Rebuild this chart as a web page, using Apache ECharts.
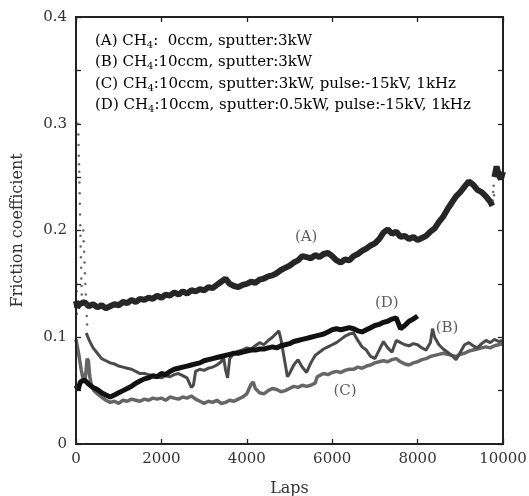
<!DOCTYPE html>
<html>
<head>
<meta charset="utf-8">
<script src="https://cdn.jsdelivr.net/npm/echarts@6/dist/echarts.min.js"></script>
<style>
  html, body { margin: 0; padding: 0; background: #fff; }
  #chart { width: 529px; height: 496px; }
</style>
</head>
<body>
<div id="chart"></div>
<script>
// friction coefficient vs laps, four coatings
const xTicks = [0, 2000, 4000, 6000, 8000, 10000];
const yTicks = [0, 0.1, 0.2, 0.3, 0.4];

const lapsA = [0, 30, 80, 200, 300, 400, 500, 600, 700, 800, 900, 1000, 1100, 1200, 1300, 1400, 1500, 1600, 1700, 1800, 1900,
  2000, 2100, 2200, 2300, 2400, 2500, 2600, 2700, 2800, 2900, 3000, 3100, 3200, 3300, 3400, 3500, 3600, 3700, 3800, 3900,
  4000, 4100, 4200, 4300, 4400, 4500, 4600, 4700, 4800, 4900, 5000, 5100, 5200, 5300, 5400, 5500, 5600, 5700, 5800, 5900,
  6000, 6100, 6200, 6300, 6400, 6500, 6600, 6700, 6800, 6900, 7000, 7100, 7200, 7300, 7400, 7500, 7600, 7700, 7800, 7900,
  8000, 8100, 8200, 8300, 8400, 8500, 8600, 8700, 8800, 8900, 9000, 9100, 9200, 9300, 9400, 9500, 9600, 9700, 9750,
  9770, 9800, 9850, 9900, 9950, 10000];
const fricA = [0.134, 0.128, 0.131, 0.133, 0.129, 0.131, 0.128, 0.130, 0.127, 0.129, 0.131, 0.130, 0.133, 0.132, 0.135, 0.133, 0.136, 0.135, 0.137, 0.136, 0.139,
  0.137, 0.140, 0.139, 0.142, 0.140, 0.143, 0.141, 0.144, 0.143, 0.145, 0.144, 0.147, 0.146, 0.149, 0.152, 0.155, 0.150, 0.148, 0.147, 0.149,
  0.150, 0.152, 0.151, 0.154, 0.155, 0.157, 0.158, 0.160, 0.163, 0.165, 0.167, 0.170, 0.172, 0.176, 0.175, 0.174, 0.177, 0.175, 0.178, 0.179,
  0.176, 0.172, 0.170, 0.173, 0.172, 0.176, 0.178, 0.181, 0.183, 0.186, 0.188, 0.192, 0.198, 0.201, 0.197, 0.199, 0.194, 0.195, 0.192, 0.194,
  0.191, 0.193, 0.195, 0.199, 0.202, 0.208, 0.213, 0.220, 0.226, 0.232, 0.236, 0.241, 0.246, 0.243, 0.238, 0.236, 0.232, 0.227, 0.223,
  null, 0.250, 0.260, 0.252, 0.248, 0.255];

const lapsB = [240, 300, 400, 500, 600, 700, 800, 900, 1000, 1100, 1200, 1300, 1400, 1500, 1600, 1700, 1800, 1900,
  2000, 2100, 2200, 2300, 2400, 2500, 2600, 2700, 2750, 2800, 2900, 3000, 3100, 3200, 3300, 3400, 3450, 3500, 3550, 3600, 3700, 3800, 3900,
  4000, 4100, 4200, 4300, 4400, 4500, 4600, 4700, 4750, 4800, 4900, 4950, 5000, 5100, 5200, 5300, 5400, 5500, 5600, 5700, 5800, 5900,
  6000, 6100, 6200, 6300, 6400, 6500, 6600, 6700, 6800, 6900, 7000, 7100, 7200, 7300, 7400, 7500, 7600, 7700, 7800, 7900,
  8000, 8100, 8200, 8300, 8350, 8400, 8500, 8600, 8700, 8800, 8900, 9000, 9100, 9200, 9300, 9400, 9500, 9600, 9700, 9800, 9900, 10000];
const fricB = [0.104, 0.098, 0.090, 0.085, 0.080, 0.078, 0.076, 0.075, 0.073, 0.072, 0.071, 0.070, 0.068, 0.066, 0.066, 0.065, 0.064, 0.063,
  0.062, 0.064, 0.063, 0.065, 0.066, 0.064, 0.062, 0.053, 0.055, 0.068, 0.070, 0.069, 0.071, 0.072, 0.074, 0.077, 0.083, 0.070, 0.062, 0.080, 0.085, 0.087, 0.088,
  0.090, 0.089, 0.092, 0.095, 0.093, 0.097, 0.100, 0.104, 0.106, 0.098, 0.075, 0.063, 0.066, 0.074, 0.079, 0.072, 0.067, 0.076, 0.083, 0.086, 0.089, 0.091,
  0.093, 0.095, 0.098, 0.101, 0.103, 0.104, 0.097, 0.091, 0.088, 0.082, 0.080, 0.088, 0.096, 0.090, 0.086, 0.097, 0.095, 0.093, 0.092, 0.094,
  0.093, 0.090, 0.088, 0.095, 0.108, 0.100, 0.093, 0.089, 0.086, 0.083, 0.079, 0.086, 0.093, 0.095, 0.092, 0.090, 0.094, 0.097, 0.095, 0.098, 0.096, 0.097];

const lapsC = [0, 60, 120, 160, 200, 230, 260, 290, 320, 360, 420, 500, 600, 700, 800, 900, 1000, 1100, 1200, 1300, 1400, 1500, 1600, 1700, 1800, 1900,
  2000, 2100, 2200, 2300, 2400, 2500, 2600, 2700, 2800, 2900, 3000, 3100, 3200, 3300, 3400, 3500, 3600, 3700, 3800, 3900,
  4000, 4100, 4150, 4200, 4300, 4400, 4500, 4600, 4700, 4800, 4900, 5000, 5100, 5200, 5300, 5400, 5500, 5600, 5650, 5700, 5800, 5900,
  6000, 6100, 6200, 6300, 6400, 6500, 6600, 6700, 6800, 6900, 7000, 7100, 7200, 7300, 7400, 7500, 7600, 7700, 7800, 7900,
  8000, 8100, 8200, 8300, 8400, 8500, 8600, 8700, 8800, 8900, 9000, 9100, 9200, 9300, 9400, 9500, 9600, 9700, 9800, 9900, 10000];
const fricC = [0.098, 0.085, 0.070, 0.062, 0.058, 0.066, 0.080, 0.078, 0.064, 0.055, 0.050, 0.047, 0.044, 0.041, 0.039, 0.040, 0.038, 0.041, 0.040, 0.042, 0.041, 0.040, 0.042, 0.041, 0.043, 0.042,
  0.043, 0.041, 0.044, 0.043, 0.042, 0.044, 0.043, 0.045, 0.042, 0.040, 0.038, 0.040, 0.039, 0.041, 0.038, 0.039, 0.041, 0.040, 0.042, 0.044,
  0.047, 0.056, 0.058, 0.052, 0.048, 0.047, 0.050, 0.052, 0.051, 0.049, 0.050, 0.052, 0.054, 0.053, 0.055, 0.054, 0.055, 0.057, 0.063, 0.064, 0.066, 0.065,
  0.067, 0.068, 0.067, 0.069, 0.070, 0.070, 0.072, 0.071, 0.073, 0.074, 0.076, 0.077, 0.078, 0.077, 0.079, 0.080, 0.077, 0.075, 0.074, 0.076,
  0.077, 0.079, 0.080, 0.082, 0.083, 0.084, 0.085, 0.084, 0.083, 0.082, 0.084, 0.085, 0.087, 0.088, 0.089, 0.090, 0.091, 0.090, 0.092, 0.093, 0.094];

const lapsD = [0, 50, 100, 200, 300, 400, 500, 600, 700, 800, 900, 1000, 1100, 1200, 1300, 1400, 1500, 1600, 1700, 1800, 1900,
  2000, 2100, 2200, 2300, 2400, 2500, 2600, 2700, 2800, 2900, 3000, 3100, 3200, 3300, 3400, 3500, 3600, 3700, 3800, 3900,
  4000, 4100, 4200, 4300, 4400, 4500, 4600, 4700, 4800, 4900, 5000, 5100, 5200, 5300, 5400, 5500, 5600, 5700, 5800, 5900,
  6000, 6100, 6200, 6300, 6400, 6500, 6600, 6700, 6800, 6900, 7000, 7100, 7200, 7300, 7400, 7500, 7550, 7600, 7700, 7800, 7900, 8000];
const fricD = [0.055, 0.051, 0.058, 0.060, 0.056, 0.053, 0.051, 0.048, 0.046, 0.044, 0.046, 0.048, 0.050, 0.052, 0.054, 0.057, 0.059, 0.061, 0.062, 0.064, 0.063,
  0.066, 0.065, 0.068, 0.070, 0.071, 0.072, 0.073, 0.074, 0.075, 0.076, 0.078, 0.079, 0.080, 0.081, 0.082, 0.083, 0.084, 0.085, 0.085, 0.086,
  0.087, 0.088, 0.088, 0.089, 0.089, 0.090, 0.091, 0.090, 0.092, 0.093, 0.094, 0.096, 0.097, 0.098, 0.099, 0.100, 0.101, 0.102, 0.103, 0.105,
  0.107, 0.108, 0.107, 0.108, 0.109, 0.108, 0.106, 0.105, 0.107, 0.109, 0.111, 0.112, 0.114, 0.115, 0.117, 0.118, 0.113, 0.108, 0.111, 0.115, 0.117, 0.120];

// sparse running-in dots at the very start (and the scatter near the end of A)
const lapsRun = [10, 15, 20, 50, 55, 60, 65, 70, 75, 80, 85, 90, 95, 100, 105, 110, 115, 120, 125, 130, 135,
  170, 180, 190, 200, 210, 220, 230, 240, 250, 260, 9760, 9770, 9780, 9790];
const fricRun = [0.150, 0.143, 0.122, 0.300, 0.290, 0.280, 0.270, 0.262, 0.255, 0.245, 0.235, 0.225, 0.215, 0.205, 0.195, 0.185, 0.175, 0.165, 0.155, 0.148, 0.140,
  0.200, 0.190, 0.180, 0.170, 0.160, 0.150, 0.140, 0.130, 0.120, 0.112, 0.228, 0.236, 0.242, 0.233];

const noteText = ['(A)', '(B)', '(C)', '(D)'];
const noteLaps = [5390, 8690, 6300, 7280];
const noteFric = [0.194, 0.109, 0.050, 0.132];

const legendRows = [
  ['(A) CH', ':  0ccm, sputter:3kW'],
  ['(B) CH', ':10ccm, sputter:3kW'],
  ['(C) CH', ':10ccm, sputter:3kW, pulse:-15kV, 1kHz'],
  ['(D) CH', ':10ccm, sputter:0.5kW, pulse:-15kV, 1kHz']
];

const serif = '"DejaVu Serif", "Liberation Serif", serif';
const ink = '#222';
const pair = (xs, ys) => xs.map((x, i) => [x, ys[i]]);

const chart = echarts.init(document.getElementById('chart'));

const tickStyle = { show: true, inside: true, length: 5, lineStyle: { color: ink, width: 1.3 } };
const lineStyleAxis = { show: true, onZero: false, lineStyle: { color: ink, width: 2 } };
const hiddenLabel = { show: true, color: 'rgba(0,0,0,0)', formatter: () => '' };

const option = {
  animation: false,
  grid: {
    left: 76, top: 17, width: 427, height: 427, outerBoundsMode: 'none',
    show: true, borderColor: ink, borderWidth: 2, backgroundColor: 'rgba(0,0,0,0)'
  },
  xAxis: [
    {
      type: 'value', min: xTicks[0], max: xTicks[5], interval: 2000,
      axisLine: lineStyleAxis, axisTick: tickStyle, splitLine: { show: false },
      name: 'Laps', nameLocation: 'middle', nameGap: 37,
      nameTextStyle: { fontFamily: serif, fontSize: 16, color: '#333' },
      axisLabel: { fontFamily: serif, fontSize: 15, color: '#333', margin: 8, formatter: v => String(v) }
    },
    {
      type: 'value', position: 'top', min: xTicks[0], max: xTicks[5], interval: 2000,
      axisLine: lineStyleAxis, axisTick: tickStyle, splitLine: { show: false },
      axisLabel: hiddenLabel
    }
  ],
  yAxis: [
    {
      type: 'value', min: yTicks[0], max: yTicks[4], interval: 0.1,
      axisLine: lineStyleAxis, axisTick: tickStyle, splitLine: { show: false },
      minorTick: { show: true, splitNumber: 2, length: 5, lineStyle: { color: ink, width: 1.3 } },
      name: 'Friction coefficient', nameLocation: 'middle', nameGap: 50,
      nameTextStyle: { fontFamily: serif, fontSize: 16, color: '#333' },
      axisLabel: {
        fontFamily: serif, fontSize: 15, color: '#333', margin: 9,
        formatter: v => (v === 0 ? '0' : v.toFixed(1))
      }
    },
    {
      type: 'value', position: 'right', min: yTicks[0], max: yTicks[4], interval: 0.1,
      axisLine: lineStyleAxis, axisTick: tickStyle, splitLine: { show: false },
      minorTick: { show: true, splitNumber: 2, length: 5, lineStyle: { color: ink, width: 1.3 } },
      axisLabel: hiddenLabel
    }
  ],
  series: [
    {
      name: 'C', type: 'line', data: pair(lapsC, fricC), showSymbol: false,
      lineStyle: { color: '#666', width: 3.5 }, z: 2
    },
    {
      name: 'B', type: 'line', data: pair(lapsB, fricB), showSymbol: false,
      lineStyle: { color: '#4a4a4a', width: 3 }, z: 3
    },
    {
      name: 'D', type: 'line', data: pair(lapsD, fricD), showSymbol: false,
      lineStyle: { color: '#111', width: 5 }, z: 4
    },
    {
      name: 'A', type: 'line', data: pair(lapsA, fricA), showSymbol: false, connectNulls: false,
      lineStyle: { color: '#262626', width: 6 }, z: 5
    },
    {
      name: 'run-in', type: 'scatter', data: pair(lapsRun, fricRun),
      xAxisIndex: 1, yAxisIndex: 1,
      symbolSize: 2.5, itemStyle: { color: '#444' }, z: 5
    },
    {
      name: 'notes', type: 'scatter', symbolSize: 0, silent: true,
      data: noteLaps.map((x, i) => [x, noteFric[i], noteText[i]]),
      label: {
        show: true, position: 'inside', formatter: p => p.value[2],
        fontFamily: serif, fontSize: 15, color: '#333'
      }
    }
  ],
  graphic: legendRows.map((row, i) => ({
    type: 'text', left: 95, top: 32 + i * 21.5,
    style: {
      text: '{t|' + row[0] + '}{s|4}{t|' + row[1] + '}',
      rich: {
        t: { fontFamily: serif, fontSize: 15, color: '#333', lineHeight: 19 },
        s: { fontFamily: serif, fontSize: 10, color: '#333', lineHeight: 19, padding: [8, 0, 0, 0] }
      }
    }
  }))
};

chart.setOption(option);

// plot frame, taken from the axes' own corners
const lo = chart.convertToPixel({ gridIndex: 0 }, [xTicks[0], yTicks[0]]);
const hi = chart.convertToPixel({ gridIndex: 0 }, [xTicks[5], yTicks[4]]);
chart.setOption({
  graphic: legendRows.map(() => ({})).concat([{
    type: 'rect', z: 10, silent: true,
    shape: { x: lo[0], y: hi[1], width: hi[0] - lo[0], height: lo[1] - hi[1] },
    style: { fill: 'none', stroke: ink, lineWidth: 2 }
  }])
});
</script>
</body>
</html>
